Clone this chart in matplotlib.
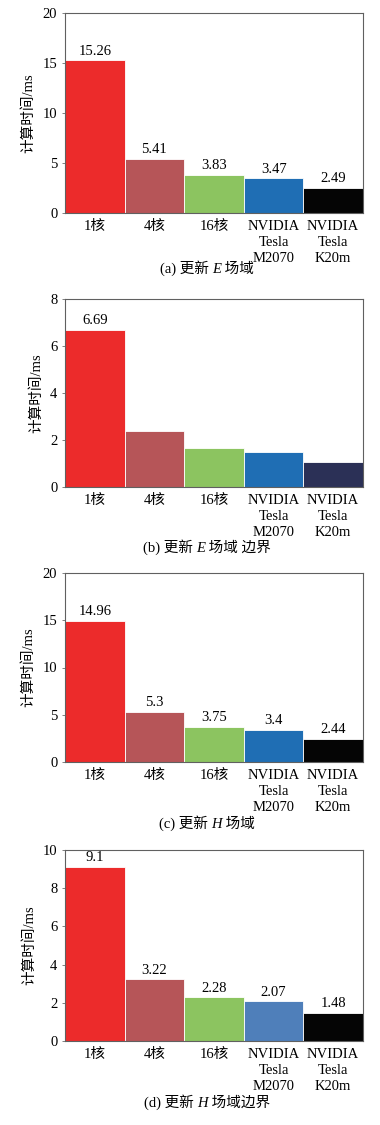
import matplotlib
matplotlib.use("Agg")
import matplotlib.pyplot as plt
from matplotlib.offsetbox import TextArea, HPacker, AnnotationBbox

FAM = ['Liberation Serif', 'Noto Sans CJK SC', 'DejaVu Sans']
plt.rcParams['font.family'] = FAM
plt.rcParams['font.size'] = 10.5

categories = ['1核', '4核', '16核', 'NVIDIA\nTesla\nM2070', 'NVIDIA\nTesla\nK20m']

values_a = [15.26, 5.41, 3.83, 3.47, 2.49]
values_b = [6.69, 2.38, 1.64, 1.50, 1.06]
values_c = [14.96, 5.3, 3.75, 3.4, 2.44]
values_d = [9.1, 3.22, 2.28, 2.07, 1.48]

labels_a = ['15.26', '5.41', '3.83', '3.47', '2.49']
labels_b = ['6.69', None, None, None, None]
labels_c = ['14.96', '5.3', '3.75', '3.4', '2.44']
labels_d = ['9.1', '3.22', '2.28', '2.07', '1.48']

ylim_a, yticks_a = 20, [0, 5, 10, 15, 20]
ylim_b, yticks_b = 8, [0, 2, 4, 6, 8]
ylim_c, yticks_c = 20, [0, 5, 10, 15, 20]
ylim_d, yticks_d = 10, [0, 2, 4, 6, 8, 10]

captions = [('(a) 更新 ', 'E', ' 场域'),
            ('(b) 更新 ', 'E', ' 场域 边界'),
            ('(c) 更新 ', 'H', ' 场域'),
            ('(d) 更新 ', 'H', ' 场域边界')]

red, rose, green, blue, black = '#EC2B2B', '#B65558', '#8CC460', '#1F6EB4', '#050505'
colors_a = [red, rose, green, blue, black]
colors_b = [red, rose, green, blue, '#2B3056']
colors_c = [red, rose, green, blue, black]
colors_d = [red, rose, green, '#4F7FBA', black]

W, H = 380, 1125
fig = plt.figure(figsize=(W / 100, H / 100), dpi=100)

# axes boxes in pixels: (top, bottom)
boxes = [(13, 213), (299, 487), (573, 762), (850, 1041)]
cap_y = [268, 547, 823, 1102]
left_px, right_px = 65, 363

panels = [
    (values_a, labels_a, colors_a, ylim_a, yticks_a),
    (values_b, labels_b, colors_b, ylim_b, yticks_b),
    (values_c, labels_c, colors_c, ylim_c, yticks_c),
    (values_d, labels_d, colors_d, ylim_d, yticks_d),
]

for i, (vals, labs, cols, ylim, yticks) in enumerate(panels):
    top, bot = boxes[i]
    ax = fig.add_axes([left_px / W, 1 - bot / H, (right_px - left_px) / W, (bot - top) / H])
    x = list(range(len(categories)))
    ax.bar(x, vals, width=1.0, color=cols, edgecolor='white', linewidth=0.6)
    ax.set_xlim(-0.5, len(categories) - 0.5)
    ax.set_ylim(0, ylim)
    ax.set_yticks(yticks)
    ax.set_xticks(x)
    ax.set_xticklabels(categories, fontsize=10.5, linespacing=1.3)
    ax.tick_params(axis='x', length=0, pad=5)
    ax.tick_params(axis='y', length=2.5, width=0.7, color='#808080', pad=3, labelsize=10.5)
    for s in ax.spines.values():
        s.set_color('#606060')
        s.set_linewidth(0.8)
    ax.set_ylabel('计算时间/ms', fontsize=10.5, labelpad=5)
    for xi, v, lab in zip(x, vals, labs):
        if lab is not None:
            ax.annotate(lab, (xi, v), xytext=(0, 2), textcoords='offset points',
                        ha='center', va='bottom', fontsize=10.5, clip_on=False)

    pre, it, post = captions[i]
    box = HPacker(children=[
        TextArea(pre, textprops=dict(family=FAM, fontsize=10.5)),
        TextArea(it, textprops=dict(family=FAM, fontsize=10.5, style='italic')),
        TextArea(post, textprops=dict(family=FAM, fontsize=10.5)),
    ], align='baseline', pad=0, sep=0)
    ab = AnnotationBbox(box, (207 / W, 1 - cap_y[i] / H), xycoords='figure fraction',
                        frameon=False, box_alignment=(0.5, 0.5), pad=0)
    fig.add_artist(ab)

fig.savefig('out.png', dpi=100, facecolor='white')
